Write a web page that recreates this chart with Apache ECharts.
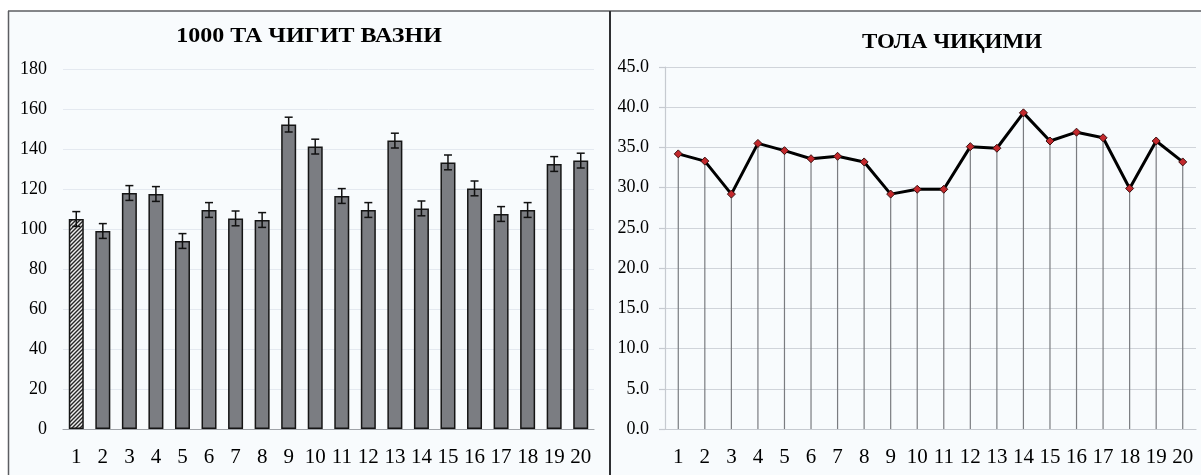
<!DOCTYPE html>
<html>
<head>
<meta charset="utf-8">
<script src="https://cdn.jsdelivr.net/npm/echarts@6/dist/echarts.min.js"></script>
<style>
  html, body { margin: 0; padding: 0; background: #ffffff; }
  #chart { width: 1201px; height: 475px; }
</style>
</head>
<body>
<div id="chart"></div>
<script>
// Variety numbers shared by both panels
const categories = ['1','2','3','4','5','6','7','8','9','10','11','12','13','14','15','16','17','18','19','20'];

// Left panel: weight of 1000 seeds, with error margins
const seedWeight = [105, 99, 118, 117.5, 94, 109.5, 105.3, 104.5, 152.2, 141.2, 116.5, 109.5, 144.2, 110.3, 133.3, 120.3, 107.5, 109.5, 132.5, 134.2];
const seedError  = [3.7, 3.7, 3.7, 3.7, 3.7, 3.7, 3.7, 3.7, 3.7, 3.7, 3.7, 3.7, 3.7, 3.7, 3.7, 3.7, 3.7, 3.7, 3.7, 3.7];
const leftTicks = { min: 0, max: 180, interval: 20 };

// Right panel: fibre yield
const fibreYield = [34.2, 33.3, 29.2, 35.5, 34.6, 33.6, 33.9, 33.2, 29.2, 29.8, 29.8, 35.1, 34.9, 39.3, 35.8, 36.9, 36.2, 29.9, 35.8, 33.2];
const rightTicks = { min: 0, max: 45, interval: 5 };

const titles = ['1000 ТА ЧИГИТ ВАЗНИ', 'ТОЛА ЧИҚИМИ'];

const SERIF = '"Liberation Serif", "DejaVu Serif", serif';

// diagonal hatch used for the first (standard) variety
function hatchPattern() {
  const c = document.createElement('canvas');
  c.width = 4; c.height = 4;
  const g = c.getContext('2d');
  g.fillStyle = '#ededed';
  g.fillRect(0, 0, 4, 4);
  g.strokeStyle = '#262626';
  g.lineWidth = 1.4;
  g.beginPath();
  g.moveTo(-1, 5); g.lineTo(5, -1);
  g.moveTo(-1, 1); g.lineTo(1, -1);
  g.moveTo(3, 5); g.lineTo(5, 3);
  g.stroke();
  return { image: c, repeat: 'repeat' };
}

const chart = echarts.init(document.getElementById('chart'), null, { renderer: 'canvas' });

const axisLabelX = { interval: 0, color: '#000', fontFamily: SERIF, fontSize: 21, margin: 18 };

chart.setOption({
  animation: false,
  backgroundColor: '#ffffff',
  graphic: [
    { type: 'rect', z: -10, silent: true, shape: { x: 9, y: 11, width: 1192, height: 464 }, style: { fill: '#f8fbfd' } },
    { type: 'line', shape: { x1: 8, y1: 11, x2: 1201, y2: 11 }, style: { stroke: '#5c5e62', lineWidth: 1.5 } },
    { type: 'line', shape: { x1: 8.5, y1: 11, x2: 8.5, y2: 475 }, style: { stroke: '#5c5e62', lineWidth: 1.5 } },
    { type: 'line', shape: { x1: 610, y1: 11, x2: 610, y2: 475 }, style: { stroke: '#2e2f32', lineWidth: 2 } },
    { type: 'text', x: 309, y: 37, scaleX: 1.2, style: { text: titles[0], font: 'bold 20px ' + SERIF, fill: '#000', align: 'center', verticalAlign: 'middle' } },
    { type: 'text', x: 952, y: 43, scaleX: 1.15, style: { text: titles[1], font: 'bold 20px ' + SERIF, fill: '#000', align: 'center', verticalAlign: 'middle' } }
  ],
  grid: [
    { left: 63, top: 69, width: 531, height: 360 },
    { left: 665, top: 67, width: 531, height: 362 }
  ],
  xAxis: [
    {
      type: 'category', gridIndex: 0, data: categories,
      axisLine: { lineStyle: { color: '#9fa3a8', width: 1.2 } },
      axisTick: { show: false },
      axisLabel: axisLabelX
    },
    {
      type: 'category', gridIndex: 1, data: categories,
      axisLine: { lineStyle: { color: '#c6cad0', width: 1.2 } },
      axisTick: { show: false },
      axisLabel: axisLabelX
    }
  ],
  yAxis: [
    {
      type: 'value', gridIndex: 0, min: leftTicks.min, max: leftTicks.max, interval: leftTicks.interval,
      axisLine: { show: false },
      axisTick: { show: false },
      splitLine: { lineStyle: { color: '#e4e9f0', width: 1 } },
      axisLabel: { color: '#000', fontFamily: SERIF, fontSize: 18, margin: 16 }
    },
    {
      type: 'value', gridIndex: 1, min: rightTicks.min, max: rightTicks.max, interval: rightTicks.interval,
      axisLine: { show: true, lineStyle: { color: '#c6cad0', width: 1.2 } },
      axisTick: { show: true, length: 6, lineStyle: { color: '#c6cad0', width: 1.2 } },
      splitLine: { lineStyle: { color: '#d0d4da', width: 1.2 } },
      axisLabel: { color: '#000', fontFamily: SERIF, fontSize: 18, margin: 16, formatter: v => v.toFixed(1) }
    }
  ],
  series: [
    {
      type: 'bar', xAxisIndex: 0, yAxisIndex: 0, barWidth: 15,
      data: seedWeight.map((v, i) => i === 0
        ? { value: v, itemStyle: { color: hatchPattern() } }
        : v),
      itemStyle: { color: '#7b7d82', borderColor: '#151515', borderWidth: 1.5 }
    },
    {
      // error whiskers with caps
      type: 'custom', xAxisIndex: 0, yAxisIndex: 0, z: 5,
      data: seedWeight.map((v, i) => [i, v - seedError[i], v + seedError[i]]),
      renderItem: (params, api) => {
        const lo = api.coord([api.value(0), api.value(1)]);
        const hi = api.coord([api.value(0), api.value(2)]);
        const x = lo[0], half = 4;
        const st = { stroke: '#111', lineWidth: 1.5 };
        return {
          type: 'group',
          children: [
            { type: 'line', shape: { x1: x, y1: lo[1], x2: x, y2: hi[1] }, style: st },
            { type: 'line', shape: { x1: x - half, y1: hi[1], x2: x + half, y2: hi[1] }, style: st },
            { type: 'line', shape: { x1: x - half, y1: lo[1], x2: x + half, y2: lo[1] }, style: st }
          ]
        };
      }
    },
    {
      // drop lines from each point to the category axis
      type: 'custom', xAxisIndex: 1, yAxisIndex: 1, z: 3,
      data: fibreYield.map((v, i) => [i, v]),
      renderItem: (params, api) => {
        const top = api.coord([api.value(0), api.value(1)]);
        const base = api.coord([api.value(0), 0]);
        return { type: 'line', shape: { x1: top[0], y1: top[1], x2: base[0], y2: base[1] }, style: { stroke: '#7a7c80', lineWidth: 1.2 } };
      }
    },
    {
      type: 'line', xAxisIndex: 1, yAxisIndex: 1, z: 6,
      data: fibreYield,
      symbol: 'diamond', symbolSize: 8,
      lineStyle: { color: '#000', width: 3 },
      itemStyle: { color: '#c3282c', borderColor: '#3a1010', borderWidth: 1 }
    }
  ]
});
</script>
</body>
</html>
